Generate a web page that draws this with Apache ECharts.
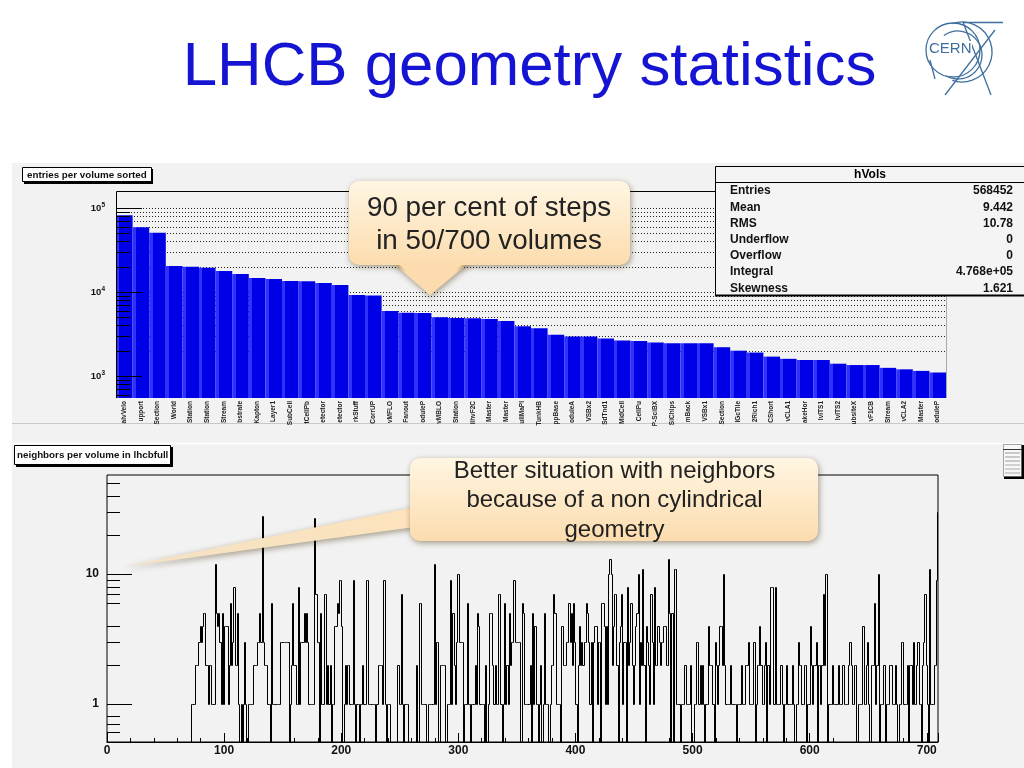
<!DOCTYPE html>
<html><head><meta charset="utf-8">
<style>html,body{margin:0;padding:0;background:#fff}#c{width:1024px;height:768px}</style>
<script src="https://cdn.jsdelivr.net/npm/echarts@6/dist/echarts.min.js"></script>
</head><body><div id="c"></div>
<script>
const volumeNames = ['alvVelo','upport','Section','World','Station','Station','Stream','bstrate','Kapton','Layer1','SubCell','tCellPb','etector','etector','rkStuff','CorrUP','vMFLO','Fanout','oduleP','vMBLO','Station','ilhvF2C','Master','Master','ullMaPl','TunkHB','ppBase','oduleA','VSBx2','SdTnd1','MidCell','CellPu','P-SciBX','SiChips','mBack','VSBx1','Section','IGcTile','2Rich1','CShort','vCLA1','akeHor','lvITS1','lvITS2','ubsiteX','vF1CB','Stream','vCLA2','Master','oduleP'];
const entriesPerVolume = [82000,59000,50800,20400,19900,19400,17800,16400,14700,14300,13500,13400,12800,12100,9200,9100,5950,5650,5600,5000,4900,4850,4750,4500,3900,3700,3100,2950,2950,2800,2650,2600,2500,2450,2450,2450,2200,2000,1900,1700,1600,1550,1550,1400,1350,1350,1250,1200,1150,1100];
const entriesMajor = [1000,10000,100000];
const entriesMinor = [600,700,800,900,2000,3000,4000,5000,6000,7000,8000,9000,20000,30000,40000,50000,60000,70000,80000,90000];
const entriesGrid = [2000,3000,4000,5000,6000,7000,8000,9000,10000,20000,30000,40000,50000,60000,70000,80000,90000,100000];
const neighborMajor = [1,10];
const neighborMinor = [0.6,0.7,0.8,2,3,4,6,7,8,9,20,30,40,50];
const neighborsPerVolume = [
0,0,0,0,0,0,0,0,0,0, 0,0,0,0,0,0,0,0,0,0, 0,0,0,0,0,0,0,0,0,0, 0,0,0,0,0,0,0,0,0,0,
0,0,0,0,0,0,0,0,0,0, 0,0,0,0,0,0,0,0,0,0, 0,0,0,0,0,0,0,0,0,0,
0,0,1,1,1,2,2,2,3,4,
3,4,5,5,2,2,1,2,2,1,
1,1,12,5,4,5,3,1,5,1,
4,4,4,1,2,6,2,3,8,2,
2,5,1,0,1,0,1,3,1,0,
1,1,1,1,1,2,2,2,3,3,
5,3,28,3,2,2,2,1,1,0,
6,1,1,1,1,1,1,1,3,3,
3,3,3,3,3,0,1,2,6,2,
2,1,1,8,1,3,3,3,5,3,
5,3,1,1,1,1,1,27,7,3,
3,0,5,1,1,7,7,1,2,1,
2,0,1,1,4,4,6,5,9,9,
4,0,1,2,1,2,2,1,1,1,
9,1,0,1,1,0,1,1,2,1,
1,9,9,1,1,1,1,1,1,0,
1,2,2,2,2,1,9,1,0,1,
1,1,0,0,0,0,0,0,2,1,
1,7,1,0,1,1,1,0,0,0,
0,0,0,0,2,0,6,6,1,1,
1,1,0,0,1,1,1,1,1,12,
1,3,3,0,2,2,2,2,2,0,
1,1,1,9,1,5,2,1,3,10,
10,3,3,3,0,1,1,6,1,1,
0,1,1,1,2,1,5,4,1,1,
1,1,0,2,0,1,5,5,5,2,
1,2,1,1,7,7,1,0,1,6,
1,2,1,5,2,3,3,9,3,3,
3,3,3,0,6,5,1,1,1,1,
1,2,0,5,1,4,1,1,0,1,
2,0,1,5,1,1,1,0,1,2,
2,7,5,1,1,1,1,0,4,2,
2,2,3,3,6,3,5,2,6,3,
1,0,2,4,2,3,2,3,3,6,
5,3,1,3,0,3,4,4,1,3,
3,0,6,6,4,1,4,1,10,13,
10,2,4,7,7,2,0,3,4,7,
1,3,3,0,8,2,3,6,2,1,
2,4,5,10,1,3,2,11,2,0,
4,3,2,1,7,3,1,8,2,2,
4,3,2,3,3,4,4,2,2,13,
5,0,5,0,11,11,1,1,1,0,
1,1,1,2,1,1,1,1,2,0,
0,1,1,3,3,1,2,1,2,1,
0,1,1,4,2,2,2,1,0,3,
2,1,2,4,4,2,10,2,1,1,
1,1,2,1,1,1,1,0,1,1,
1,2,1,1,1,2,2,3,1,1,
1,1,3,0,1,2,2,4,2,1,
1,2,3,0,2,1,8,8,8,1,
8,1,1,1,1,2,1,0,1,1,
2,1,1,1,1,2,1,0,1,1,
3,2,2,1,1,2,2,0,1,1,
4,2,1,2,2,3,0,2,2,1,
2,7,2,10,10,0,1,1,1,2,
1,1,1,1,2,1,1,1,2,1,
1,1,1,2,3,2,1,1,2,2,
0,1,1,1,1,4,1,1,2,3,
1,0,2,2,2,6,1,2,10,0,
1,1,1,2,0,1,1,1,2,2,
1,1,1,2,1,0,1,1,3,3,
1,1,1,2,0,2,2,1,3,1,
1,2,3,1,1,0,2,3,7,2,
1,0,11,1,1,1,2,2,9,30];
const statsNames = ['Entries','Mean','RMS','Underflow','Overflow','Integral','Skewness'];
const statsValues = ['568452','9.442','10.78','0','0','4.768e+05','1.621'];

const FONT = '"Liberation Sans",Arial,sans-serif';
const floorY = 0.505;
const chart = echarts.init(document.getElementById('c'), null, {renderer:'canvas'});
const crisp = v => Math.round(v) + 0.5;

function ticksSeries(name, xi, yi, values, len, z){
  return {type:'custom', name, xAxisIndex:xi, yAxisIndex:yi, z, silent:true, clip:false,
    data: values.map(v=>[0,v]),
    renderItem(p,api){
      const y = crisp(api.coord([0,api.value(1)])[1]), x = p.coordSys.x;
      return {type:'line', shape:{x1:x,y1:y,x2:x+len,y2:y}, style:{stroke:'#000',lineWidth:1}};
    }};
}
function gridSeries(name, xi, yi, values){
  return {type:'custom', name, xAxisIndex:xi, yAxisIndex:yi, z:1, silent:true,
    data: values.map(v=>[0,v]),
    renderItem(p,api){
      const y = crisp(api.coord([0,api.value(1)])[1]), c = p.coordSys;
      return {type:'line', shape:{x1:c.x,y1:y,x2:c.x+c.width,y2:y}, style:{stroke:'#222',lineWidth:1,lineDash:[1,2]}};
    }};
}

const barFill = {type:'linear',x:0,y:0,x2:1,y2:0,colorStops:[
  {offset:0,color:'#3030ff'},{offset:.2,color:'#3030ff'},{offset:.2,color:'#0000e6'},{offset:1,color:'#0000e6'}]};
const calloutFill = {type:'linear',x:0,y:0,x2:0,y2:1,colorStops:[{offset:0,color:'#fff6e2'},{offset:1,color:'#fcdcae'}]};
const shadow = {shadowBlur:6,shadowColor:'rgba(60,40,0,.45)',shadowOffsetX:1,shadowOffsetY:2};

function txt(x,y,text,o){
  return {type:'text',x,y,z:o.z||60,silent:true,style:Object.assign({text,fontFamily:FONT,verticalAlign:'middle',fill:'#000'},o.s)};
}
const stroke = (shape,c,w,z)=>({type:'line',z:z||60,silent:true,shape,style:{stroke:c,lineWidth:w||1}});

const graphics = [
  {type:'rect',z:-10,silent:true,shape:{x:12,y:163,width:1012,height:605},style:{fill:'#f2f2f2'}},
  stroke({x1:12,y1:423.5,x2:1024,y2:423.5},'#c8c8c8',1,-9),
  stroke({x1:12,y1:443.5,x2:1024,y2:443.5},'#ffffff',1.5,-9),
  txt(529.5,68,'LHCB geometry statistics',{s:{fontSize:61.8,fill:'#1414d2',align:'center'}}),

  {type:'rect',z:50,silent:true,shape:{x:24,y:169,width:129,height:15},style:{fill:'#000'}},
  {type:'rect',z:51,silent:true,shape:{x:22.5,y:167.5,width:129,height:14},style:{fill:'#fff',stroke:'#000',lineWidth:1}},
  txt(27,175,'entries per volume sorted',{s:{fontSize:9.8,fontWeight:'bold',fill:'#111'}}),
  {type:'rect',z:50,silent:true,shape:{x:16,y:447,width:157,height:20},style:{fill:'#000'}},
  {type:'rect',z:51,silent:true,shape:{x:14.5,y:445.5,width:156,height:19},style:{fill:'#fff',stroke:'#000',lineWidth:1}},
  txt(17,455,'neighbors per volume in lhcbfull',{s:{fontSize:9.8,fontWeight:'bold',fill:'#111'}}),

  {type:'rect',z:50,silent:true,shape:{x:715.5,y:166.5,width:312,height:129},style:{fill:'#f4f4f4',stroke:'#000',lineWidth:1}},
  stroke({x1:715,y1:295.5,x2:1024,y2:295.5},'#000',2,51),
  stroke({x1:715,y1:182.5,x2:1024,y2:182.5},'#000',1,51),
  txt(870,175,'hVols',{s:{fontSize:12,fontWeight:'bold',align:'center'}}),

  {type:'polygon',z:70,silent:true,shape:{points:[[392,262],[430,295],[470,262]]},style:Object.assign({fill:'#fcdcae'},shadow)},
  {type:'rect',z:71,silent:true,shape:{x:349,y:181,width:281,height:84,r:10},style:Object.assign({fill:calloutFill},shadow)},
  {type:'polygon',z:72,silent:true,shape:{points:[[394,260],[430,293],[468,260]]},style:{fill:'#fcdcae'}},
  txt(489,208.5,'90 per cent of steps',{z:73,s:{fontSize:27.8,fill:'#222',align:'center'}}),
  txt(489,241.5,'in 50/700 volumes',{z:73,s:{fontSize:27.8,fill:'#222',align:'center'}}),

  {type:'polygon',z:70,silent:true,shape:{points:[[122,567],[415,507],[415,527]]},style:Object.assign({fill:{type:'linear',x:0,y:0,x2:1,y2:0,colorStops:[{offset:0,color:'#f2e2c4'},{offset:1,color:'#fde3bd'}]}},shadow)},
  {type:'rect',z:71,silent:true,shape:{x:410,y:458,width:408,height:83,r:10},style:Object.assign({fill:calloutFill},shadow)},
  txt(614.5,471,'Better situation with neighbors',{z:73,s:{fontSize:24,fill:'#222',align:'center'}}),
  txt(614.5,500,'because of a non cylindrical',{z:73,s:{fontSize:24,fill:'#222',align:'center'}}),
  txt(614.5,530,'geometry',{z:73,s:{fontSize:24,fill:'#222',align:'center'}}),

  {type:'rect',z:50,silent:true,shape:{x:1004,y:445,width:20,height:34},style:{fill:'#000'}},
  {type:'rect',z:51,silent:true,shape:{x:1003.5,y:444.5,width:18,height:32},style:{fill:'#f8f8f8',stroke:'#555',lineWidth:.5}},
  stroke({x1:1003,y1:449.5,x2:1022,y2:449.5},'#333',1,52),
  stroke({x1:1005,y1:453,x2:1020,y2:453},'#999',1,52),
  stroke({x1:1005,y1:457,x2:1020,y2:457},'#999',1,52),
  stroke({x1:1005,y1:461,x2:1020,y2:461},'#999',1,52),
  stroke({x1:1005,y1:465,x2:1020,y2:465},'#aaa',1,52),
  stroke({x1:1005,y1:469,x2:1020,y2:469},'#aaa',1,52),
  stroke({x1:1005,y1:473,x2:1020,y2:473},'#aaa',1,52),

  {type:'circle',z:60,silent:true,shape:{cx:953,cy:50,r:27},style:{fill:'none',stroke:'#3f6f9f',lineWidth:1.3}},
  {type:'arc',z:60,silent:true,shape:{cx:962,cy:52,r:30,startAngle:-1.9,endAngle:1.9},style:{fill:'none',stroke:'#3f6f9f',lineWidth:1.3}},
  {type:'arc',z:60,silent:true,shape:{cx:958,cy:55,r:24,startAngle:-2.2,endAngle:2.1},style:{fill:'none',stroke:'#3f6f9f',lineWidth:1.3}},
  stroke({x1:963,y1:22.5,x2:1003,y2:22.5},'#3f6f9f',1.3),
  stroke({x1:963,y1:22,x2:991,y2:95},'#3f6f9f',1.3),
  stroke({x1:995,y1:30,x2:945,y2:95},'#3f6f9f',1.3),
  stroke({x1:930,y1:60,x2:935,y2:79},'#3f6f9f',1.3),
  {type:'rect',z:61,silent:true,shape:{x:929,y:41,width:43,height:16},style:{fill:'#fff'}},
  txt(929,49,'CERN',{z:62,s:{fontSize:15,fill:'#3f6f9f'}})
];
statsNames.forEach((n,i)=>{
  const y=191+i*16.2;
  graphics.push(txt(730,y,n,{s:{fontSize:12,fontWeight:'bold',fill:'#111'}}));
  graphics.push(txt(1013,y,statsValues[i],{s:{fontSize:12,fontWeight:'bold',fill:'#111',align:'right'}}));
});

const supLabel = v=>{
  const e=Math.round(Math.log10(v));
  return entriesMajor.some(m=>Math.abs(m-v)<1e-6*m) ? '{b|10}{s|'+e+'}' : '';
};
const atFloor = v => v>0 ? v : floorY;
const bins = neighborsPerVolume.map((v,i)=>[i, atFloor(v), atFloor(neighborsPerVolume[i+1]||0)]);

chart.setOption({
  animation:false,
  textStyle:{fontFamily:FONT},
  grid:[
    {left:116,top:191,width:830,height:207,show:false},
    {left:107,top:475,width:831,height:267,show:true,borderColor:'#000',borderWidth:1,backgroundColor:'transparent'}
  ],
  xAxis:[
    {type:'category',gridIndex:0,data:volumeNames,boundaryGap:true,
     axisLine:{show:false},axisTick:{show:false},
     axisLabel:{interval:0,rotate:90,margin:3,fontSize:6.5,fontWeight:'bold',color:'#222',fontFamily:FONT,hideOverlap:false}},
    {type:'value',gridIndex:1,min:0,max:709.6,interval:100,
     axisLine:{show:true,onZero:false,lineStyle:{color:'#000'}},
     axisTick:{inside:true,length:9,lineStyle:{color:'#000'}},
     minorTick:{show:true,splitNumber:5,length:4,lineStyle:{color:'#000'}},
     splitLine:{show:false},
     axisLabel:{margin:3,fontSize:12,fontWeight:'bold',color:'#111',fontFamily:FONT,showMaxLabel:false}}
  ],
  yAxis:[
    {type:'log',gridIndex:0,logBase:10,min:547,max:159000,
     axisLine:{show:false},axisTick:{show:false},splitLine:{show:false},minorTick:{show:false},minorSplitLine:{show:false},
     axisLabel:{margin:11,formatter:supLabel,rich:{b:{fontSize:9.5,fontWeight:'bold',color:'#111',fontFamily:FONT},s:{fontSize:6.5,fontWeight:'bold',color:'#111',fontFamily:FONT,verticalAlign:'bottom',padding:[0,0,5,0]}}}},
    {type:'log',gridIndex:1,logBase:10,min:floorY,max:58,
     axisLine:{show:false},axisTick:{show:false},splitLine:{show:false},minorTick:{show:false},minorSplitLine:{show:false},
     axisLabel:{margin:8,fontSize:12,fontWeight:'bold',color:'#111',fontFamily:FONT,
       formatter:v=>neighborMajor.some(m=>Math.abs(m-v)<1e-6)?String(Math.round(v)):''}}
  ],
  graphic:{elements:graphics},
  series:[
    gridSeries('entries grid',0,0,entriesGrid),
    {type:'bar',name:'entries',xAxisIndex:0,yAxisIndex:0,z:2,data:entriesPerVolume,barWidth:'100%',barGap:0,silent:true,itemStyle:{color:barFill}},
    ticksSeries('entries major',0,0,entriesMajor,26,3),
    ticksSeries('entries minor',0,0,entriesMinor,14,3),
    {type:'custom',name:'entries frame',xAxisIndex:0,yAxisIndex:0,z:3,silent:true,clip:false,data:[[0,1000]],
      renderItem(p){const c=p.coordSys;return {type:'group',children:[
        {type:'polyline',shape:{points:[[c.x+.5,c.y+c.height],[c.x+.5,c.y+.5],[c.x+c.width-230,c.y+.5]]},style:{fill:'none',stroke:'#000',lineWidth:1}},
        {type:'line',shape:{x1:c.x+c.width+.5,y1:c.y,x2:c.x+c.width+.5,y2:c.y+c.height},style:{stroke:'#aaa',lineWidth:1}}]};}},
    {type:'custom',name:'neighbors',xAxisIndex:1,yAxisIndex:1,z:2,silent:true,clip:true,data:bins,
      encode:{x:0,y:1},
      renderItem(p,api){
        const i=api.value(0), a=api.coord([i,api.value(1)]), b=api.coord([i+1,api.value(2)]);
        const x1=crisp(a[0]), x2=crisp(b[0]), y1=crisp(a[1]), y2=crisp(b[1]);
        return {type:'polyline',shape:{points:[[x1,y1],[x2,y1],[x2,y2]]},style:{fill:'none',stroke:'#000',lineWidth:1}};
      }},
    ticksSeries('neighbor major',1,1,neighborMajor,25,3),
    ticksSeries('neighbor minor',1,1,neighborMinor,13,3)
  ]
});
</script></body></html>
